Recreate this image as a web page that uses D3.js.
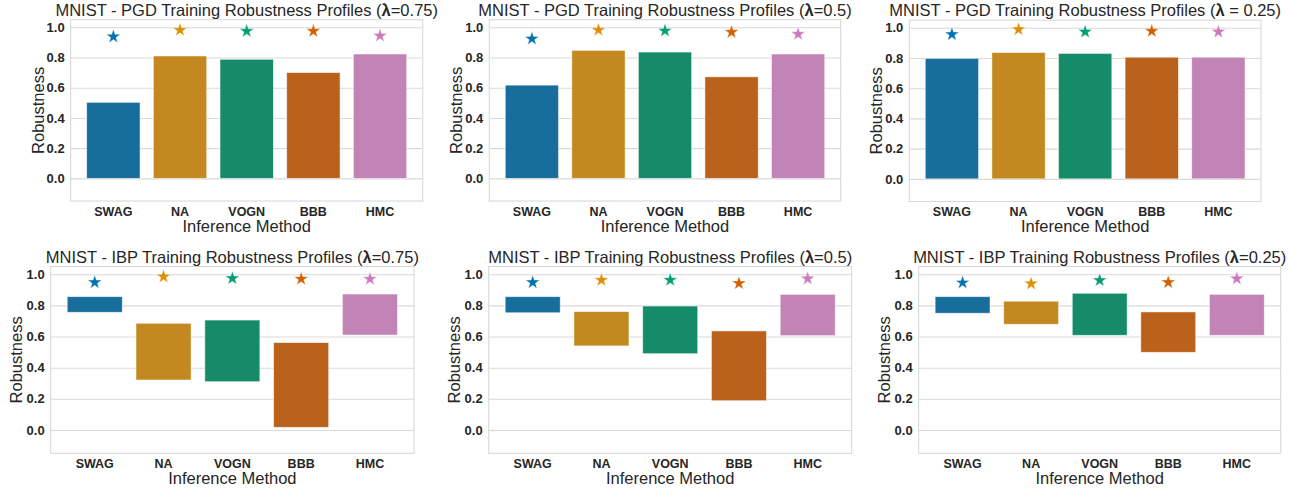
<!DOCTYPE html>
<html>
<head>
<meta charset="utf-8">
<script src="https://cdn.jsdelivr.net/npm/d3@7"></script>
<style>
  body { margin: 0; background: #fff; }
  text { font-family: "Liberation Sans", Arial, sans-serif; fill: #262626; }
</style>
</head>
<body>
<div id="wrapper"></div>
<script>
// data
const methods = ["SWAG", "NA", "VOGN", "BBB", "HMC"];
const yTicks = [0.0, 0.2, 0.4, 0.6, 0.8, 1.0];

// PGD training : bars start at 0
const pgd075 = [0.503, 0.81, 0.788, 0.70, 0.823];
const pgd050 = [0.617, 0.847, 0.836, 0.672, 0.823];
const pgd025 = [0.797, 0.836, 0.83, 0.805, 0.805];
const pgd075Stars = [0.938, 0.982, 0.975, 0.975, 0.944];
const pgd050Stars = [0.924, 0.982, 0.977, 0.968, 0.955];
const pgd025Stars = [0.956, 0.989, 0.973, 0.978, 0.973];

// IBP training : floating bars (low, high)
const ibp075Low  = [0.756, 0.321, 0.31, 0.017, 0.61];
const ibp075High = [0.856, 0.685, 0.706, 0.561, 0.873];
const ibp050Low  = [0.753, 0.54, 0.49, 0.188, 0.606];
const ibp050High = [0.856, 0.76, 0.796, 0.636, 0.871];
const ibp025Low  = [0.75, 0.679, 0.608, 0.499, 0.608];
const ibp025High = [0.856, 0.827, 0.878, 0.758, 0.871];
const ibp075Stars = [0.948, 0.985, 0.974, 0.97, 0.97];
const ibp050Stars = [0.948, 0.963, 0.963, 0.942, 0.972];
const ibp025Stars = [0.946, 0.94, 0.961, 0.948, 0.972];

const starColors = ["#0173b2", "#de8f05", "#029e73", "#d55e00", "#cc78bc"];
const barColors  = ["#176d9c", "#c38820", "#168b6a", "#ba611b", "#c283b6"];

const panels = [
  {kind: "PGD", lam: "=0.75", low: null, high: pgd075, stars: pgd075Stars,
   box: {x0: 70.7, x1: 422.7, y0: 19.75, y1: 201}, ylabX: 37.7, titleY: 16},
  {kind: "PGD", lam: "=0.5", low: null, high: pgd050, stars: pgd050Stars,
   box: {x0: 489.3, x1: 840.7, y0: 19.75, y1: 201}, ylabX: 456, titleY: 16},
  {kind: "PGD", lam: " = 0.25", low: null, high: pgd025, stars: pgd025Stars,
   box: {x0: 909.3, x1: 1261, y0: 20.2, y1: 201.5}, ylabX: 876, titleY: 16},
  {kind: "IBP", lam: "=0.75", low: ibp075Low, high: ibp075High, stars: ibp075Stars,
   box: {x0: 50.7, x1: 414, y0: 266.5, y1: 453.3}, ylabX: 16, titleY: 263},
  {kind: "IBP", lam: "=0.5", low: ibp050Low, high: ibp050High, stars: ibp050Stars,
   box: {x0: 488.7, x1: 851.7, y0: 266.5, y1: 453.3}, ylabX: 454, titleY: 263},
  {kind: "IBP", lam: "=0.25", low: ibp025Low, high: ibp025High, stars: ibp025Stars,
   box: {x0: 918.7, x1: 1280.7, y0: 266.5, y1: 453.3}, ylabX: 884, titleY: 263},
];

const svg = d3.select("#wrapper")
  .append("svg")
  .attr("width", 1289)
  .attr("height", 488);

panels.forEach((p) => {
  const b = p.box;
  const xScale = d3.scaleBand()
    .domain(methods)
    .range([b.x0, b.x1])
    .paddingInner(0.2)
    .paddingOuter(0.24);
  const yScale = d3.scaleLinear()
    .domain([-0.15, 1.05])
    .range([b.y1, b.y0]);

  const g = svg.append("g");

  // grid
  g.append("g")
    .attr("transform", `translate(${b.x0},0)`)
    .call(d3.axisLeft(yScale).tickValues(yTicks).tickSize(-(b.x1 - b.x0)).tickFormat(""))
    .call((a) => a.select(".domain").remove())
    .call((a) => a.selectAll("line").attr("stroke", "#d9d9d9").attr("stroke-width", 1.1));

  // frame
  g.append("rect")
    .attr("x", b.x0).attr("y", b.y0)
    .attr("width", b.x1 - b.x0).attr("height", b.y1 - b.y0)
    .attr("fill", "none").attr("stroke", "#d6d6d6").attr("stroke-width", 1);

  // bars
  g.selectAll(".bar")
    .data(methods)
    .enter().append("rect")
      .attr("x", (d) => xScale(d))
      .attr("y", (d, i) => yScale(p.high[i]))
      .attr("width", xScale.bandwidth())
      .attr("height", (d, i) => yScale(p.low ? p.low[i] : 0) - yScale(p.high[i]))
      .attr("fill", (d, i) => barColors[i])
      .attr("stroke", "#ffffff").attr("stroke-opacity", 0.6).attr("stroke-width", 0.8);

  // stars
  const star = d3.symbol().type(d3.symbolStar).size(62);
  g.selectAll(".star")
    .data(methods)
    .enter().append("path")
      .attr("d", star)
      .attr("transform", (d, i) => `translate(${xScale(d) + xScale.bandwidth() / 2},${yScale(p.stars[i])})`)
      .attr("fill", (d, i) => starColors[i])
      .attr("stroke", "#ffffff").attr("stroke-width", 0.4);

  // y tick labels
  const yAxis = g.append("g")
    .attr("transform", `translate(${b.x0},0)`)
    .call(d3.axisLeft(yScale).tickValues(yTicks).tickSize(0).tickPadding(6).tickFormat(d3.format(".1f")));
  yAxis.select(".domain").remove();
  yAxis.selectAll("text")
    .attr("font-family", null)
    .style("font-size", "13px").style("font-weight", "bold");

  // x tick labels
  const xAxis = g.append("g")
    .attr("transform", `translate(0,${b.y1})`)
    .call(d3.axisBottom(xScale).tickSize(0).tickPadding(6));
  xAxis.select(".domain").remove();
  xAxis.selectAll("text")
    .attr("font-family", null)
    .attr("dy", "0.71em")
    .style("font-size", "12.5px").style("font-weight", "bold");

  // axis labels
  g.append("text")
    .attr("x", (b.x0 + b.x1) / 2)
    .attr("y", b.y1 + 30.5)
    .attr("text-anchor", "middle")
    .style("font-size", "16.5px")
    .text("Inference Method");

  g.append("text")
    .attr("transform", `translate(${p.ylabX + 6},${(b.y0 + b.y1) / 2}) rotate(-90)`)
    .attr("text-anchor", "middle")
    .style("font-size", "16.5px")
    .text("Robustness");

  // title
  const t = g.append("text")
    .attr("x", (b.x0 + b.x1) / 2)
    .attr("y", p.titleY)
    .attr("text-anchor", "middle")
    .style("font-size", "16.5px");
  t.append("tspan").text(`MNIST - ${p.kind} Training Robustness Profiles (`);
  t.append("tspan").style("font-weight", "bold").text("λ");
  t.append("tspan").text(`${p.lam})`);
});
</script>
</body>
</html>
